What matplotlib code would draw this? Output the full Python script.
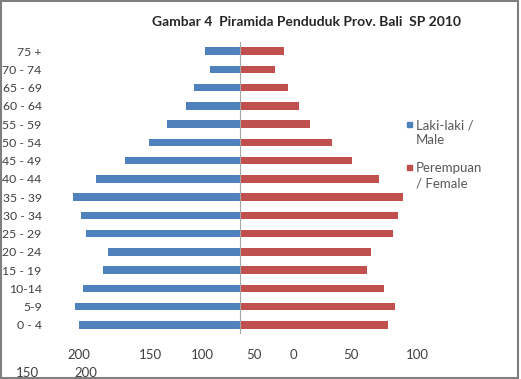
import matplotlib
matplotlib.use("Agg")
import matplotlib.pyplot as plt
from matplotlib.patches import Rectangle

plt.rcParams['font.family'] = ['Lato', 'DejaVu Sans']

# ---- data (thousands) ----
age_groups = ["0 - 4", "5-9", "10-14", "15 - 19", "20 - 24", "25 - 29", "30 - 34",
              "35 - 39", "40 - 44", "45 - 49", "50 - 54", "55 - 59", "60 - 64",
              "65 - 69", "70 - 74", "75 +"]
male = [169, 174, 165, 144, 139, 162, 167, 176, 152, 121, 96, 77, 57, 48, 32, 37]
female = [156, 163, 152, 134, 138, 161, 166, 172, 146, 118, 97, 74, 62, 50, 37, 46]
tick_row1 = ["200", "150", "100", "50", "0", "50", "100"]
tick_row2 = ["150", "200"]
legend_labels = ["Laki-laki /\nMale", "Perempuan\n/ Female"]
title = "Gambar 4  Piramida Penduduk Prov. Bali  SP 2010"

W, H = 521, 379
fig = plt.figure(figsize=(W / 100, H / 100), dpi=100)

def fx(px):
    return px / W

def fy(py):
    return 1 - py / H

ax_l, ax_r, ax_t, ax_b = 50, 430, 42, 334
ax = fig.add_axes([fx(ax_l), fy(ax_b), (ax_r - ax_l) / W, (ax_b - ax_t) / H])

blue = "#4F81BD"
red = "#C0504D"
y = list(range(len(age_groups)))
ax.barh(y, [-v for v in male], height=0.4, color=blue)
ax.barh(y, female, height=0.4, color=red)
ax.axvline(0, color="#A6A6A6", lw=0.8)
ax.set_xlim(-200, 200)
ax.set_ylim(-0.5, len(age_groups) - 0.5)
ax.set_yticks(y)
ax.set_yticklabels(age_groups, fontsize=8.8, color="#404040")
ax.tick_params(axis="y", length=0, pad=6)
ax.set_xticks([])
for s in ax.spines.values():
    s.set_visible(False)

# title
fig.text(fx(307), fy(22), title, ha="center", va="center", fontsize=10,
         fontweight="bold", color="#262626")

# x tick labels (as laid out in the reference)
row1_px = [79, 150, 202, 254, 293, 351, 417]
row2_px = [27, 86]
for lab, px in zip(tick_row1, row1_px):
    fig.text(fx(px), fy(355), lab, ha="center", va="center", fontsize=9.5, color="#404040")
for lab, px in zip(tick_row2, row2_px):
    fig.text(fx(px), fy(373), lab, ha="center", va="center", fontsize=9.5, color="#404040")

# legend
leg_y = [124, 167]
for lab, col, py in zip(legend_labels, [blue, red], leg_y):
    fig.patches.append(Rectangle((fx(407), fy(py + 3)), 5 / W, 5 / H,
                                 transform=fig.transFigure, color=col))
    fig.text(fx(416), fy(py - 5), lab, ha="left", va="top", fontsize=9.5,
             color="#595959", linespacing=1.35)

# frame
fig.patches.append(Rectangle((fx(0.8), fy(378.2)), 517.5 / W, 377.4 / H,
                             transform=fig.transFigure, fill=False,
                             edgecolor="#7F7F7F", lw=1.5))

fig.savefig("out.png", dpi=100)
